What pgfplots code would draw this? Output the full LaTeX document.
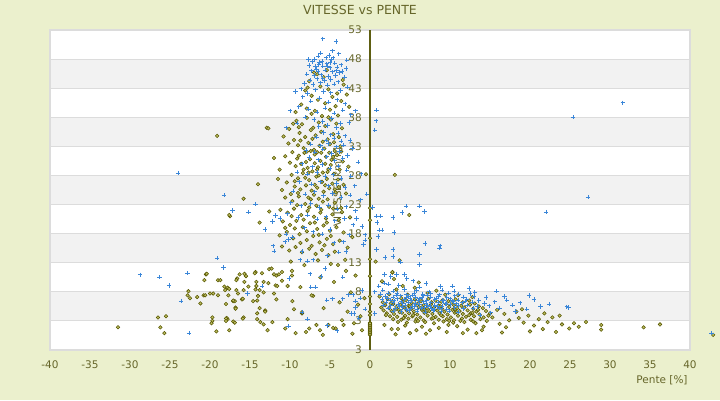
\documentclass[border=0pt]{standalone}
\usepackage{fontspec}
\setmainfont{DejaVu Sans}
\usepackage{pgfplots}
\pgfplotsset{compat=1.18}
\definecolor{bg}{HTML}{EBF0CD}
\definecolor{band}{HTML}{F2F2F2}
\definecolor{gridc}{HTML}{DCDCDC}
\definecolor{txt}{HTML}{66662A}
\definecolor{axol}{HTML}{5E5E12}
\definecolor{bluem}{HTML}{3A86D8}
\definecolor{olivem}{HTML}{575700}
\definecolor{olivef}{HTML}{BDBD62}
\tikzset{ylab/.style={anchor=east, inner sep=0pt, text=txt, font=\fontsize{10.5}{12}\selectfont}}
\begin{document}
\begin{tikzpicture}
\fill[bg] (0,0) rectangle (720pt,400pt);
\useasboundingbox (0,0) rectangle (720pt,400pt);
\node[anchor=base, text=txt, font=\fontsize{12.5}{14}\selectfont] at (360pt,385pt) {VITESSE vs PENTE};
\node[anchor=base, text=txt, font=\fontsize{10.5}{12}\selectfont] at (662pt,17pt) {Pente [\%]};
\begin{axis}[
  at={(50pt,50pt)}, anchor=south west, scale only axis, width=640pt, height=320pt,
  xmin=-40, xmax=40, ymin=-2, ymax=53, clip=false,
  axis line style={draw=none},
  major tick length=0pt,
  xtick={-40,-35,...,40},
  xticklabels={-40,-35,-30,-25,-20,-15,-10,-5,0,5,10,15,20,25,30,35,40},
  ytick=\empty,
  xticklabel style={anchor=base, yshift=-18pt, text=txt, font=\fontsize{10.5}{12}\selectfont},
]
\fill[white] (axis cs:-40,-2) rectangle (axis cs:40,53);
\fill[band] (axis cs:-40,3) rectangle (axis cs:40,8);
\fill[band] (axis cs:-40,13) rectangle (axis cs:40,18);
\fill[band] (axis cs:-40,23) rectangle (axis cs:40,28);
\fill[band] (axis cs:-40,33) rectangle (axis cs:40,38);
\fill[band] (axis cs:-40,43) rectangle (axis cs:40,48);
\draw[gridc, line width=1pt] (axis cs:-40,3) -- (axis cs:40,3);
\draw[gridc, line width=1pt] (axis cs:-40,8) -- (axis cs:40,8);
\draw[gridc, line width=1pt] (axis cs:-40,13) -- (axis cs:40,13);
\draw[gridc, line width=1pt] (axis cs:-40,18) -- (axis cs:40,18);
\draw[gridc, line width=1pt] (axis cs:-40,23) -- (axis cs:40,23);
\draw[gridc, line width=1pt] (axis cs:-40,28) -- (axis cs:40,28);
\draw[gridc, line width=1pt] (axis cs:-40,33) -- (axis cs:40,33);
\draw[gridc, line width=1pt] (axis cs:-40,38) -- (axis cs:40,38);
\draw[gridc, line width=1pt] (axis cs:-40,43) -- (axis cs:40,43);
\draw[gridc, line width=1pt] (axis cs:-40,48) -- (axis cs:40,48);
\draw[gridc, line width=1.3pt] (axis cs:-40,-2) rectangle (axis cs:40,53);
\node[rotate=90, text=txt, font=\fontsize{10.3}{12}\selectfont] at (axis cs:-4,26) {VITESSE [km/h]};
\draw[axol, line width=1.3pt] (axis cs:0,-2) -- (axis cs:0,53);
\node[ylab] at (axis cs:-1,53) {53};
\node[ylab] at (axis cs:-1,48) {48};
\node[ylab] at (axis cs:-1,43) {43};
\node[ylab] at (axis cs:-1,38) {38};
\node[ylab] at (axis cs:-1,33) {33};
\node[ylab] at (axis cs:-1,28) {28};
\node[ylab] at (axis cs:-1,23) {23};
\node[ylab] at (axis cs:-1,18) {18};
\node[ylab] at (axis cs:-1,13) {13};
\node[ylab] at (axis cs:-1,8) {8};
\node[ylab] at (axis cs:-1,3) {3};
\node[ylab] at (axis cs:-1,-2) {3};
% olive series
\addplot[only marks, mark=square*, mark size=1.25pt, mark options={rotate=45, draw=olivem, fill=olivef, line width=0.55pt}] coordinates {
(-9.2,37.4) (-8.5,36.8) (-7.9,37.9) (-7.1,36.2) (-6.4,37.1) (-5.6,36.5) (-4.9,37.6) (-4.2,36.9) (-3.5,36.1) (-8.8,35.3)
(-8.1,34.6) (-7.4,35.8) (-6.8,34.9) (-6.1,35.5) (-5.3,34.2) (-4.6,35.1) (-3.9,34.6) (-9.5,34.1) (-10.2,33.5) (-9.0,33.2)
(-8.3,32.7) (-7.7,33.6) (-7.0,32.4) (-6.3,33.1) (-5.7,32.6) (-5.0,33.4) (-4.4,32.2) (-3.7,33.0) (-9.7,32.0) (-8.9,31.4)
(-8.2,31.9) (-7.5,30.8) (-6.9,31.6) (-6.2,30.5) (-5.5,31.2) (-4.8,30.7) (-4.1,31.5) (-3.4,30.4) (-10.0,30.2) (-9.3,29.6)
(-8.6,30.0) (-7.8,29.3) (-7.2,28.7) (-6.5,29.4) (-5.9,28.5) (-5.2,29.1) (-4.5,28.3) (-3.8,29.0) (-9.8,28.1) (-9.0,27.5)
(-8.4,28.4) (-7.6,27.2) (-6.7,27.8) (-6.0,26.9) (-5.4,27.4) (-4.7,26.6) (-4.0,27.3) (-3.3,26.4) (-10.4,26.8) (-9.4,26.1)
(-8.7,25.6) (-8.0,26.3) (-7.3,25.4) (-6.6,25.9) (-5.8,25.2) (-5.1,25.8) (-4.3,25.1) (-11.0,25.5) (-9.9,24.8) (-7.0,24.7)
(-8.9,36.3) (-6.0,38.2) (-7.3,38.6) (-5.2,38.0) (-4.0,38.3) (-9.6,36.9) (-10.8,34.7) (-10.6,31.3) (-11.3,29.0) (-11.5,27.4)
(-6.6,32.0) (-7.9,32.1) (-5.1,31.9) (-6.4,28.0) (-7.7,28.5) (-5.6,30.0) (-8.3,29.0) (-4.9,29.8) (-6.9,30.1) (-3.6,32.1)
(-10.6,24.2) (-9.7,23.6) (-8.9,24.4) (-8.1,23.1) (-7.4,23.9) (-6.7,22.8) (-5.9,23.5) (-5.1,22.6) (-4.4,23.3) (-3.6,22.4)
(-11.2,22.1) (-10.3,21.6) (-9.5,22.3) (-8.6,21.2) (-7.8,21.9) (-7.0,20.9) (-6.2,21.6) (-5.5,20.6) (-4.7,21.3) (-3.9,20.4)
(-10.9,20.1) (-10.0,19.5) (-9.2,20.2) (-8.4,19.1) (-7.5,19.8) (-6.6,18.8) (-5.8,19.4) (-5.0,18.5) (-4.2,19.1) (-3.3,18.2)
(-11.3,17.7) (-10.4,18.3) (-9.6,17.2) (-8.8,17.9) (-7.9,16.9) (-7.1,17.6) (-6.3,16.5) (-5.4,17.1) (-4.6,16.2) (-3.8,16.8)
(-11.0,15.8) (-10.1,15.1) (-9.3,15.7) (-8.5,14.8) (-7.6,15.4) (-6.8,14.5) (-6.0,15.2) (-5.2,14.3) (-4.4,14.9) (-2.8,15.6)
(-9.9,13.2) (-8.2,12.6) (-6.5,13.4) (-4.9,12.8) (-3.1,13.5) (-2.5,20.8) (-2.2,17.4) (-12.6,21.8) (-13.8,19.9) (-17.5,21.0)
(-7.0,45.7) (-6.6,45.4) (-5.8,44.9) (-3.4,44.4) (-3.3,43.6) (-7.6,44.2) (-6.2,43.3) (-5.2,42.8) (-4.1,42.1) (-8.1,42.6)
(-7.3,41.7) (-6.5,41.0) (-5.6,40.4) (-4.7,41.5) (-3.6,40.8) (-8.6,40.2) (-7.9,39.5) (-6.9,39.1) (-5.0,39.3) (-2.6,39.8)
(-9.3,38.9) (-4.3,39.9) (-2.9,41.9) (-7.8,43.1) (-5.4,46.1)
(-20.5,11.0) (-20.7,10.0) (-19.0,10.0) (-18.7,10.0) (-16.3,11.0) (-16.6,10.3) (-16.7,10.0) (-15.5,10.7) (-14.3,11.4) (-13.5,11.2)
(-12.6,11.9) (-12.3,12.0) (-12.0,11.0) (-11.7,10.8) (-11.4,11.0) (-15.7,9.7) (-14.2,9.7) (-13.3,9.7) (-12.7,9.5) (-11.8,9.1)
(-18.2,8.9) (-18.1,8.3) (-17.8,8.7) (-17.6,8.5) (-16.7,8.3) (-16.5,7.7) (-17.7,7.4) (-19.0,7.4) (-20.0,7.7) (-19.6,7.7)
(-20.8,7.4) (-20.6,7.4) (-21.6,7.1) (-22.7,8.1) (-22.8,7.4) (-22.5,6.9) (-21.2,6.0) (-18.0,5.9) (-17.1,6.4) (-16.9,6.4)
(-16.8,5.3) (-16.0,6.7) (-14.6,6.4) (-14.1,6.5) (-13.3,7.9) (-13.8,8.3) (-12.0,7.7) (-13.1,4.8) (-14.1,4.3) (-14.1,3.3)
(-13.7,2.8) (-13.3,2.4) (-12.2,2.8) (-12.8,1.4) (-15.8,3.6) (-17.1,2.9) (-17.8,3.3) (-17.9,3.5) (-17.6,1.4) (-19.2,1.2)
(-19.7,3.6) (-19.7,3.0) (-19.8,2.6) (-25.5,3.8) (-26.5,3.6) (-26.2,1.9) (-25.7,0.9) (-31.5,1.9) (-18.0,3.4) (-16.9,2.7)
(-20.4,11.1) (-15.7,11.1) (-14.4,11.2) (-11.0,11.4) (-9.75,11.6) (-9.75,10.8) (-11.0,9.9) (-10.3,9.0) (-11.6,9.0) (-9.7,6.4)
(-9.5,5.0) (-8.5,4.3) (-10.3,3.3) (-10.6,1.7) (-13.8,5.2) (-13.1,4.6) (-15.9,3.4) (-18.0,3.0) (-17.1,6.5) (-15.9,6.8)
(-14.0,7.3) (-15.8,8.3) (-15.2,8.9) (-14.3,8.4) (-14.2,9.0) (-11.7,6.7) (-16.8,5.1)
(-9.3,0.9) (-7.6,1.7) (-6.7,2.3) (-5.2,2.3) (-4.3,1.7) (-8.5,4.5) (-7.1,7.3) (-7.3,7.4) (-8.7,8.8) (-3.5,3.1)
(-2.8,4.6) (-2.0,2.6) (-1.5,5.8) (-1.2,3.8) (-3.8,6.2) (-2.4,7.9) (-5.8,5.2) (-4.5,9.7) (-6.2,10.5) (-1.8,10.8)
(-3.0,11.6) (-1.0,1.4) (-0.7,6.9) (-2.2,0.8) (-5.9,0.6) (-8.0,1.1) (-6.25,1.4) (-4.6,1.8) (-3.3,2.3) (-4.0,12.6)
(0,0.6) (0,0.9) (0,1.2) (0,1.5) (0,1.8) (0,2.1) (0,2.4) (0,2.7) (0,0.75) (0,1.05) (0,1.35) (0,1.65) (0,1.95) (0,2.25) (0,2.55)
(0,4.0) (0,4.6) (0,5.9) (0,7.2) (0,10.7) (0,13.6) (0,17.2) (0,20.3) (0,22.4)
(2.2,6.8) (3.9,6.9) (5.6,6.7) (7.3,6.8) (9.1,6.6) (10.7,6.7) (12.4,6.5)
(1.6,6.2) (2.8,6.4) (4.1,6.3) (5.2,6.1) (6.4,6.4) (7.7,6.2) (8.9,6.3) (10.2,6.1) (11.6,6.2) (13.1,6.0)
(1.9,5.7) (2.9,5.9) (3.8,5.8) (4.8,5.6) (5.7,5.9) (6.7,5.7) (7.6,5.8) (8.6,5.6) (9.5,5.9) (10.5,5.7) (11.4,5.6) (12.5,5.8) (13.6,5.5)
(1.4,5.3) (2.4,5.2) (3.3,5.4) (4.3,5.3) (5.2,5.1) (6.1,5.4) (7.1,5.2) (8.0,5.3) (9.0,5.1) (9.9,5.4) (10.9,5.2) (11.8,5.3) (12.9,5.1) (14.1,5.2)
(1.7,4.8) (2.7,4.7) (3.6,4.9) (4.6,4.8) (5.5,4.6) (6.5,4.9) (7.4,4.7) (8.4,4.8) (9.3,4.6) (10.3,4.9) (11.2,4.7) (12.2,4.8) (13.3,4.6) (14.5,4.7)
(2.1,4.3) (3.0,4.2) (4.0,4.4) (4.9,4.3) (5.9,4.1) (6.8,4.4) (7.8,4.2) (8.7,4.3) (9.7,4.1) (10.6,4.4) (11.6,4.2) (12.6,4.3) (13.7,4.1) (15.0,4.3)
(2.5,3.8) (3.4,3.7) (4.4,3.9) (5.3,3.8) (6.3,3.6) (7.2,3.9) (8.2,3.7) (9.1,3.8) (10.1,3.6) (11.0,3.9) (12.0,3.7) (13.0,3.8) (14.2,3.6)
(2.9,3.3) (3.9,3.2) (4.8,3.4) (5.8,3.3) (6.7,3.1) (7.7,3.4) (8.6,3.2) (9.6,3.3) (10.5,3.1) (11.5,3.4) (12.6,3.2) (13.8,3.3)
(3.5,2.8) (4.6,2.7) (5.7,2.9) (6.9,2.8) (8.0,2.6) (9.2,2.9) (10.4,2.7) (11.8,2.8) (13.2,2.6)
(2.6,6.0) (4.5,6.6) (6.0,6.0) (8.2,6.5) (9.8,6.4) (3.2,5.0) (5.0,5.5) (6.8,5.0) (8.8,5.5) (10.6,5.0)
(2.0,4.0) (3.7,4.5) (5.4,4.0) (7.0,4.5) (8.9,4.0) (10.8,4.5) (12.4,4.0) (4.2,3.5) (6.0,3.0) (7.9,3.5)
(9.9,3.0) (11.3,3.0) (12.8,4.4) (14.8,3.9) (13.5,4.9)
(2.8,11.3) (4.1,9.0) (1.5,9.8) (3.3,8.4) (5.6,8.7) (2.4,7.6) (7.2,7.8) (9.4,7.5) (6.1,9.6) (1.2,7.2)
(4.7,7.5) (11.0,7.4) (3.0,10.2) (8.3,8.2) (12.8,7.1)
(2.7,1.6) (3.5,1.6) (5.8,1.4) (7.5,1.4) (9.6,1.1) (13.3,0.9) (4.4,2.2) (6.5,2.0) (8.6,1.8) (10.9,2.1)
(12.2,1.5) (1.8,2.3) (11.6,0.9) (14.2,2.0) (7.0,0.8) (5.0,0.9) (9.8,2.3) (3.2,0.7)
(12.9,2.9) (14.6,3.0) (15.3,3.6) (16.2,2.5) (16.8,4.2) (17.4,3.1) (18.3,4.6) (18.6,3.5) (15.9,4.9) (17.0,1.9)
(19.2,2.7) (19.8,3.9) (20.5,2.2) (21.1,3.3) (21.6,1.6) (22.2,2.8) (23.25,1.1) (22.8,3.6) (24.0,2.4) (24.9,1.7)
(25.5,2.6) (27.0,2.8) (28.9,2.3) (28.9,1.5) (34.2,1.9) (36.25,2.4) (20.0,1.2) (16.5,1.0) (19.0,5.0) (14.0,1.4)
(21.8,4.3) (23.7,3.9) (26.1,2.0)
(-19.1,34.8) (-17.6,21.2) (-12.9,36.2) (-12.7,36.1) (-10.1,36.0) (-0.5,28.2) (3.1,28.1) (4.9,21.2) (3.7,13.4) (0.7,13.2)
(2.8,11.4) (42.9,0.6) (-15.8,24.0) (-14.0,26.5) (-12.0,31.0)
(-8.7,34.0) (-7.2,34.3) (-5.9,33.8) (-4.5,33.7) (-9.1,30.9) (-7.4,32.2) (-6.1,31.9) (-4.6,31.2) (-8.0,30.3) (-6.6,29.0)
(-5.3,28.6) (-9.4,27.0) (-8.1,27.6) (-6.9,26.4) (-5.6,26.3) (-4.4,25.6) (-9.0,25.0) (-7.7,24.2) (-6.4,24.0) (-5.3,23.9)
(-9.1,22.9) (-7.6,22.5) (-6.1,22.1) (-4.6,22.3) (-9.8,21.0) (-8.3,20.4) (-6.9,19.9) (-5.4,19.9) (-9.4,18.9) (-7.9,18.4)
(-6.4,17.8) (-4.9,17.6) (-8.7,16.4) (-7.3,15.9) (-5.7,16.0) (-10.6,19.0) (-3.5,21.7) (-3.0,24.9) (-3.9,26.0) (-2.7,29.5)
};
% blue series
\addplot[only marks, mark=+, mark size=2.2pt, mark options={draw=bluem, line width=0.9pt}] coordinates {
(-5.9,51.5) (-4.25,51.0) (-4.7,49.4) (-3.9,48.9) (-2.9,47.8) (-6.5,48.5) (-5.5,48.2) (-4.8,47.9) (-7.2,47.6) (-6.3,47.4)
(-5.4,47.2) (-4.4,47.3) (-3.6,47.0) (-7.6,46.9) (-6.8,46.7) (-5.9,46.8) (-5.0,46.5) (-4.1,46.6) (-7.3,46.0) (-6.5,45.9)
(-5.6,46.1) (-4.7,45.8) (-3.8,45.7) (-7.9,45.4) (-7.0,45.2) (-6.1,45.3) (-5.2,45.0) (-4.3,45.2) (-3.2,44.9) (-7.5,44.4)
(-6.6,44.6) (-5.7,44.3) (-4.9,44.5) (-4.0,44.1) (-8.2,43.8) (-7.1,43.6) (-6.2,43.9) (-5.3,43.5) (-4.5,43.7) (-2.8,43.2)
(-8.6,42.9) (-6.8,42.7) (-5.8,42.4) (-3.7,42.6) (-4.9,42.2) (-7.8,42.1) (-6.0,47.6) (-5.1,48.6) (-6.9,48.0) (-4.2,46.0)
(-5.9,44.7) (-6.7,46.2) (-5.3,46.8) (-6.4,47.0) (-5.0,47.4) (-7.7,47.9) (-3.5,45.9) (-4.6,48.2) (-6.2,49.0) (-3.0,46.4)
(-9.3,42.4) (-10.0,39.1) (-1.8,39.1) (0.8,39.2) (0.75,37.4) (0.6,35.8) (-10.5,36.2) (-8.4,41.5) (-7.4,40.8) (-6.3,41.3)
(-5.2,40.6) (-4.1,41.0) (-3.1,40.3) (-8.9,39.8) (-7.7,39.4) (-6.6,38.9) (-5.6,39.6) (-4.5,38.7) (-3.4,39.2) (-2.4,38.4)
(-8.1,38.0) (-7.0,37.6) (-5.9,37.3) (-4.8,37.8) (-3.7,36.9) (-2.6,37.1) (-9.1,37.0) (-6.4,36.4) (-5.3,36.6) (-4.2,36.2)
(-5.8,35.4) (-4.9,35.0) (-4.0,35.3) (-3.1,34.8) (-6.7,34.6) (-5.5,34.1) (-4.5,34.4) (-3.6,33.9) (-2.5,34.0) (-7.4,33.4)
(-6.2,33.1) (-5.2,33.5) (-4.2,32.9) (-3.3,33.2) (-2.2,32.6) (-8.0,32.3) (-6.9,32.0) (-5.9,32.5) (-4.8,31.8) (-3.8,32.1)
(-2.8,31.4) (-7.6,31.1) (-6.5,30.7) (-5.4,31.2) (-4.4,30.5) (-3.4,30.9) (-1.5,30.3) (-8.5,30.0) (-7.2,29.5) (-6.0,29.9)
(-5.0,29.2) (-4.0,29.6) (-2.9,28.9) (-9.1,28.6) (-7.8,28.2) (-6.6,28.5) (-5.6,27.8) (-4.6,28.1) (-3.6,27.5) (-2.4,27.9)
(-8.8,26.9) (-7.3,26.5) (-6.2,26.9) (-5.2,26.2) (-4.2,26.6) (-3.1,25.9) (-1.9,26.2) (-9.6,25.3) (-8.1,24.8) (-6.9,25.2)
(-5.8,24.5) (-4.7,24.9) (-3.6,24.2) (-2.5,24.6) (-1.2,23.8) (-9.9,23.3) (-8.6,22.8) (-7.4,23.2) (-6.3,22.5) (-5.2,22.9)
(-4.1,22.2) (-3.0,22.6) (-1.8,21.9) (-10.3,21.4) (-9.0,20.8) (-7.8,21.2) (-6.6,20.5) (-5.5,20.9) (-4.4,20.2) (-3.2,20.6)
(-2.1,19.5) (-1.7,20.6) (-1.0,19.2) (-10.5,17.9) (-10.2,17.0) (-9.7,17.4) (-10.6,16.6) (-6.0,17.9) (-4.5,16.4) (-3.3,16.6)
(-8.5,14.9) (-3.9,14.8) (-3.0,14.9) (-8.2,19.0) (-7.1,18.3) (-5.0,18.7) (-2.6,17.8) (-0.6,16.9) (-0.4,24.8) (-1.1,28.3)
(0.3,22.5) (0.8,21.0) (1.3,21.0) (2.9,20.8) (0.9,19.9) (1.2,18.6) (1.5,18.6) (1.0,17.5) (3.0,18.2) (0.8,15.3)
(2.9,15.3) (1.9,13.9) (2.9,14.1) (6.2,14.4) (3.8,13.1) (6.2,12.7) (1.8,11.0) (3.3,11.0) (4.3,11.0) (6.2,22.7)
(4.5,22.7) (6.8,21.8) (4.0,21.6) (6.9,16.3) (8.7,15.5) (-0.6,17.8) (-0.8,16.1)
(-28.75,10.9) (-26.3,10.5) (-25.1,9.1) (-22.8,11.2) (-23.6,6.4) (-22.6,0.9) (-19.1,13.8) (-18.3,12.2) (-12.1,15.9) (-12.0,15.0)
(-15.3,7.7) (-13.5,9.0) (-24.0,28.4) (-18.25,24.6) (-14.3,23.1) (-15.2,21.7) (-13.1,18.7) (-11.8,21.1) (-11.25,20.6) (-12.2,20.1)
(-17.2,22.0)
(-7.5,11.1) (-7.4,8.8) (-6.8,8.8) (-6.1,10.6) (-10.1,10.3) (-8.5,4.5) (-7.8,3.3) (-10.2,2.1) (-5.3,2.2) (-4.1,1.3)
(-5.4,6.6) (-4.7,6.8) (-3.4,6.8) (-2.7,7.5) (-2.1,7.5) (-1.8,6.4) (-1.8,5.3) (-2.3,4.3) (-2.0,4.3) (-1.25,6.9)
(-3.4,10.5) (-5.6,12.0) (-8.75,13.5) (-7.8,13.3) (-7.1,13.5) (-5.3,14.2) (-1.0,8.2) (-0.6,5.0) (-1.4,3.5) (0.6,8.0)
(0.6,4.3)
(1.6,8.3) (2.9,8.1) (4.3,8.4) (5.8,8.2) (7.4,8.0) (9.0,8.3) (10.5,8.1)
(1.3,7.6) (2.3,7.8) (3.4,7.7) (4.5,7.5) (5.5,7.8) (6.6,7.6) (7.6,7.7) (8.7,7.5) (9.8,7.8) (11.1,7.6) (12.5,7.7)
(1.9,7.2) (2.9,7.1) (3.8,7.3) (4.8,7.2) (5.7,7.0) (6.7,7.3) (7.6,7.1) (8.6,7.2) (9.6,7.0) (10.6,7.3) (11.7,7.1) (13.0,7.2)
(1.5,6.7) (2.5,6.6) (3.4,6.8) (4.3,6.7) (5.2,6.5) (6.2,6.8) (7.1,6.6) (8.1,6.7) (9.0,6.5) (10.0,6.8) (11.0,6.6) (12.1,6.7) (13.6,6.5)
(2.0,6.2) (2.9,6.1) (3.9,6.3) (4.8,6.2) (5.7,6.0) (6.7,6.3) (7.6,6.1) (8.5,6.2) (9.5,6.0) (10.4,6.3) (11.5,6.1) (12.8,6.2) (14.3,6.0)
(1.7,5.7) (2.6,5.6) (3.5,5.8) (4.4,5.7) (5.3,5.5) (6.2,5.8) (7.2,5.6) (8.1,5.7) (9.0,5.5) (10.0,5.8) (11.0,5.6) (12.2,5.7) (13.4,5.5)
(2.3,5.2) (3.2,5.1) (4.1,5.3) (5.0,5.2) (5.9,5.0) (6.8,5.3) (7.7,5.1) (8.7,5.2) (9.6,5.0) (10.6,5.3) (11.7,5.1) (12.9,5.2)
(2.9,4.7) (3.9,4.6) (4.9,4.8) (5.9,4.7) (6.9,4.5) (7.9,4.8) (8.9,4.6) (9.9,4.7) (11.0,4.5)
(3.0,6.45) (4.1,5.95) (5.0,6.9) (6.0,6.45) (7.0,5.95) (8.3,6.9) (9.2,6.45) (3.7,5.45) (4.6,7.0) (5.6,5.45)
(6.5,7.0) (7.5,5.45) (8.4,5.45) (9.4,5.95) (10.3,6.45) (2.2,6.9) (3.3,7.45) (5.3,7.45) (7.2,7.45) (6.4,5.2)
(4.5,4.95) (8.0,4.95) (10.8,5.95) (11.9,6.4)
(13.75,4.0) (14.5,7.0) (15.6,6.3) (16.2,5.2) (17.1,6.6) (17.8,5.7) (18.75,6.1) (19.6,5.0) (20.5,6.7) (21.3,5.5)
(15.1,4.4) (16.8,7.2) (14.9,5.6) (18.2,4.6) (22.4,5.9) (24.8,5.3) (13.1,7.9) (19.9,7.4) (15.8,8.1) (12.4,8.6)
(1.8,9.5) (2.3,9.3) (5.4,9.9) (0.6,8.0) (3.6,9.1) (7.0,9.4) (4.6,10.3) (8.8,8.9) (10.3,9.0) (1.1,9.0)
(6.2,8.8) (2.6,10.6)
(31.6,40.5) (25.4,38.0) (27.25,24.3) (22.0,21.7) (24.6,5.4) (8.75,15.9) (42.7,0.9)
};
\end{axis}
\end{tikzpicture}
\end{document}
